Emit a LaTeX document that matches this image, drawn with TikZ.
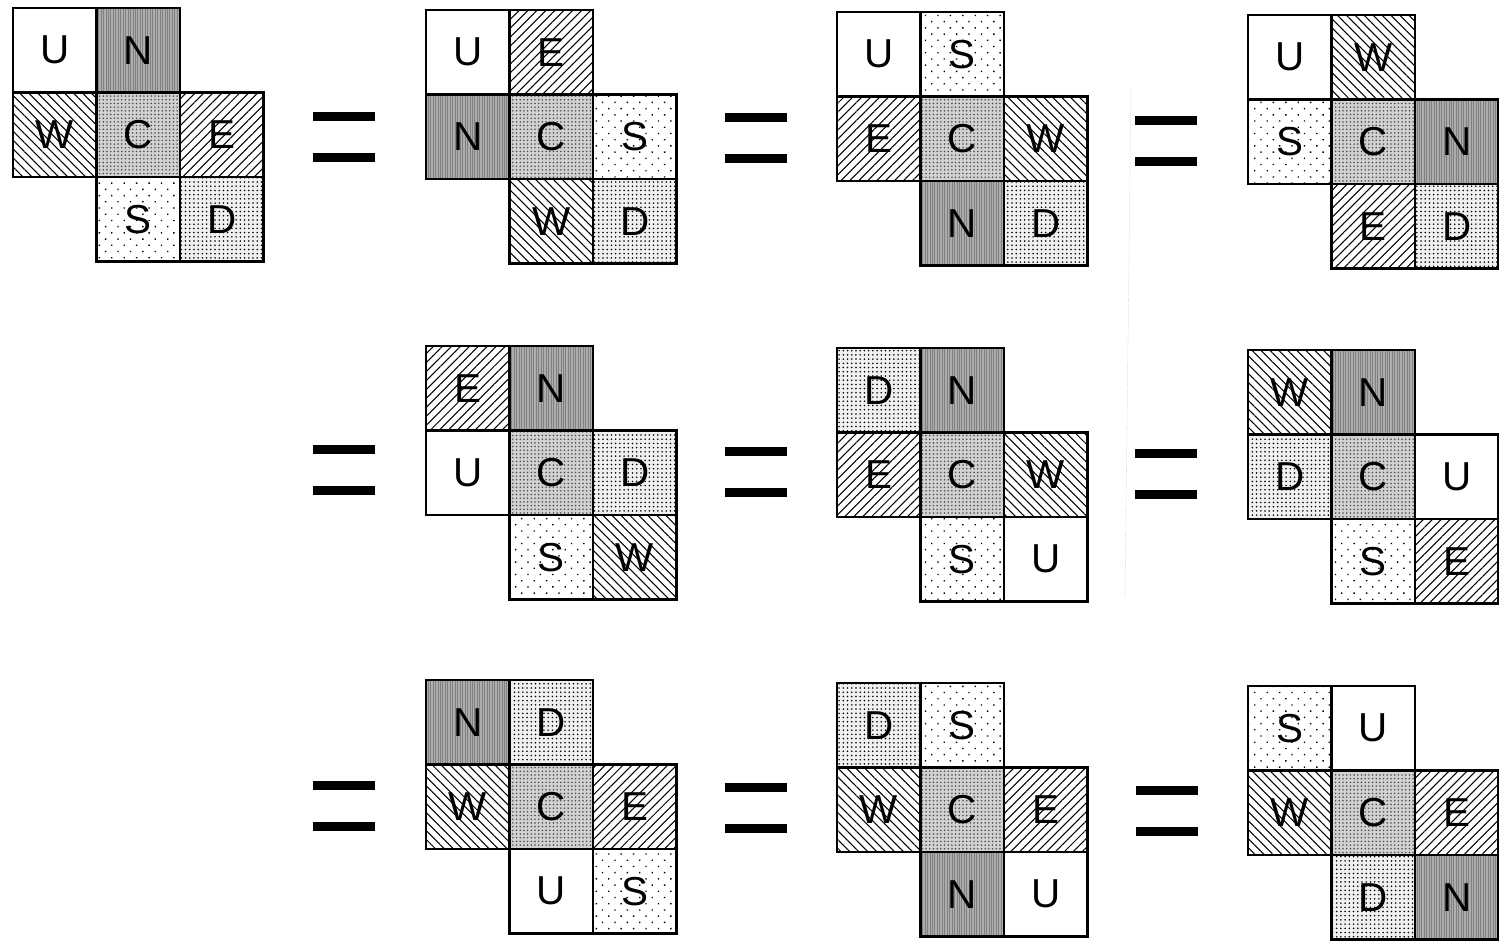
\documentclass[tikz,border=0pt]{standalone}
\usepackage{fontspec}
\setmainfont{Liberation Sans}
\usetikzlibrary{patterns.meta}

\tikzset{
  face/.style={draw, line width=1.3pt, minimum width=1.67cm, minimum height=1.69cm,
    inner sep=0pt, font=\fontsize{23}{23}\selectfont},
  faceU/.style={fill=white},
  faceN/.style={preaction={fill=black!32},
    pattern={Lines[angle=90,distance=1.4pt,line width=0.3pt]}, pattern color=black!50},
  faceC/.style={preaction={fill=black!18},
    pattern={Dots[distance=2.1pt,radius=0.5pt]}, pattern color=black!70},
  faceW/.style={pattern={Lines[angle=-45,distance=3.6pt,line width=0.6pt]}},
  faceE/.style={pattern={Lines[angle=45,distance=3.6pt,line width=0.6pt]}},
  faceS/.style={pattern={Dots[angle=45,distance=5pt,radius=0.55pt]}},
  faceD/.style={preaction={fill=black!6},
    pattern={Dots[distance=2.4pt,radius=0.5pt]}},
  eqbar/.style={line width=0.18cm},
}

% one net of seven squares, letters row by row
\newcommand\cubenet[9]{%
  \begin{scope}[shift={(#2)}]
    \foreach \l/\c/\r [count=\i] in {#3/0/0,#4/1/0,#5/0/1,#6/1/1,#7/2/1,#8/1/2,#9/2/2}
      \node[face, face\l] (#1-\i) at ({41.75+83.5*\c},{42.25+84.5*\r}) {\l};
  \end{scope}}

% equals sign centred at (x,y)
\newcommand\eqsign[2]{%
  \draw[eqbar] (#1-31,#2-20.5) -- (#1+31,#2-20.5);
  \draw[eqbar] (#1-31,#2+20.5) -- (#1+31,#2+20.5);}

\begin{document}
\begin{tikzpicture}[x=0.02cm, y=-0.02cm]
  \useasboundingbox (0,0) rectangle (1499,941);

  % first row
  \cubenet{na}{13,8}{U}{N}{W}{C}{E}{S}{D}
  \eqsign{344}{137}
  \cubenet{nb}{426,10}{U}{E}{N}{C}{S}{W}{D}
  \eqsign{756}{138}
  \cubenet{nc}{837,12}{U}{S}{E}{C}{W}{N}{D}
  \eqsign{1166}{141}
  \cubenet{nd}{1248,15}{U}{W}{S}{C}{N}{E}{D}

  % second row
  \eqsign{344}{470}
  \cubenet{ne}{426,346}{E}{N}{U}{C}{D}{S}{W}
  \eqsign{756}{472}
  \cubenet{nf}{837,348}{D}{N}{E}{C}{W}{S}{U}
  \eqsign{1166}{474}
  \cubenet{ng}{1248,350}{W}{N}{D}{C}{U}{S}{E}

  % third row
  \eqsign{344}{806}
  \cubenet{nh}{426,680}{N}{D}{W}{C}{E}{U}{S}
  \eqsign{756}{808}
  \cubenet{ni}{837,683}{D}{S}{W}{C}{E}{N}{U}
  \eqsign{1167}{811}
  \cubenet{nj}{1248,686}{S}{U}{W}{C}{E}{D}{N}

  % faint fold mark
  \draw[black!35, densely dotted, line width=0.3pt] (1131,90) -- (1125,595);
\end{tikzpicture}
\end{document}
